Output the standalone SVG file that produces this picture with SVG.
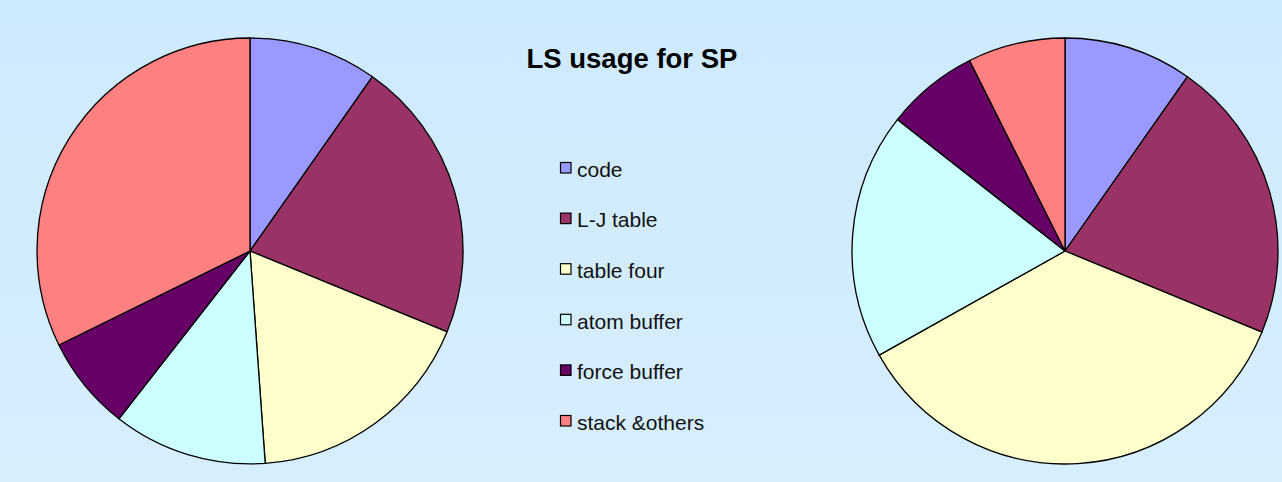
<svg xmlns="http://www.w3.org/2000/svg" width="1282" height="482" viewBox="0 0 1282 482">
<defs>
<linearGradient id="bg" x1="0" y1="0" x2="0" y2="1">
<stop offset="0" stop-color="#CEEAFD"/>
<stop offset="1" stop-color="#D7EEFD"/>
</linearGradient>
</defs>
<style>
.sl{stroke:#000;stroke-width:1.3;stroke-linejoin:round}
.code{fill:#9999FF}.lj{fill:#993366}.four{fill:#FFFFCC}.atom{fill:#CCFFFF}.force{fill:#660066}.stack{fill:#FF8080}
.lt{font-family:"Liberation Sans",Arial,sans-serif;font-size:21px;fill:#111}
.sw{stroke:#000;stroke-width:1.2}
.title{font-family:"Liberation Sans",Arial,sans-serif;font-size:27.5px;font-weight:bold;fill:#000}
</style>
<rect width="1282" height="482" fill="url(#bg)"/>
<g id="pie-left">
<path class="sl code" d="M250,251 L250,38 A213,213 0 0 1 372.5,76.7 Z"/>
<path class="sl lj" d="M250,251 L372.5,76.7 A213,213 0 0 1 447.1,331.8 Z"/>
<path class="sl four" d="M250,251 L447.1,331.8 A213,213 0 0 1 265.2,463.4 Z"/>
<path class="sl atom" d="M250,251 L265.2,463.4 A213,213 0 0 1 118.9,418.8 Z"/>
<path class="sl force" d="M250,251 L118.9,418.8 A213,213 0 0 1 58.9,345 Z"/>
<path class="sl stack" d="M250,251 L58.9,345 A213,213 0 0 1 250,38 Z"/>
</g>
<g id="pie-right">
<path class="sl code" d="M1065,251 L1065,38 A213,213 0 0 1 1187.5,76.7 Z"/>
<path class="sl lj" d="M1065,251 L1187.5,76.7 A213,213 0 0 1 1261.9,332.2 Z"/>
<path class="sl four" d="M1065,251 L1261.9,332.2 A213,213 0 0 1 879.2,355.1 Z"/>
<path class="sl atom" d="M1065,251 L879.2,355.1 A213,213 0 0 1 897.4,119.6 Z"/>
<path class="sl force" d="M1065,251 L897.4,119.6 A213,213 0 0 1 969.6,60.5 Z"/>
<path class="sl stack" d="M1065,251 L969.6,60.5 A213,213 0 0 1 1065,38 Z"/>
</g>
<g id="title">
<text class="title" x="526.5" y="68.3">LS usage for SP</text>
</g>
<g id="legend">
<g id="legend-code"><rect class="sw code" x="560.5" y="162.5" width="10.5" height="10.5"/><text class="lt" x="577" y="176.7">code</text></g>
<g id="legend-lj"><rect class="sw lj" x="560.5" y="213.1" width="10.5" height="10.5"/><text class="lt" x="577" y="227.3">L-J table</text></g>
<g id="legend-four"><rect class="sw four" x="560.5" y="263.7" width="10.5" height="10.5"/><text class="lt" x="577" y="277.9">table four</text></g>
<g id="legend-atom"><rect class="sw atom" x="560.5" y="314.3" width="10.5" height="10.5"/><text class="lt" x="577" y="328.5">atom buffer</text></g>
<g id="legend-force"><rect class="sw force" x="560.5" y="364.9" width="10.5" height="10.5"/><text class="lt" x="577" y="379.1">force buffer</text></g>
<g id="legend-stack"><rect class="sw stack" x="560.5" y="415.5" width="10.5" height="10.5"/><text class="lt" x="577" y="429.7">stack &amp;others</text></g>
</g>
</svg>
